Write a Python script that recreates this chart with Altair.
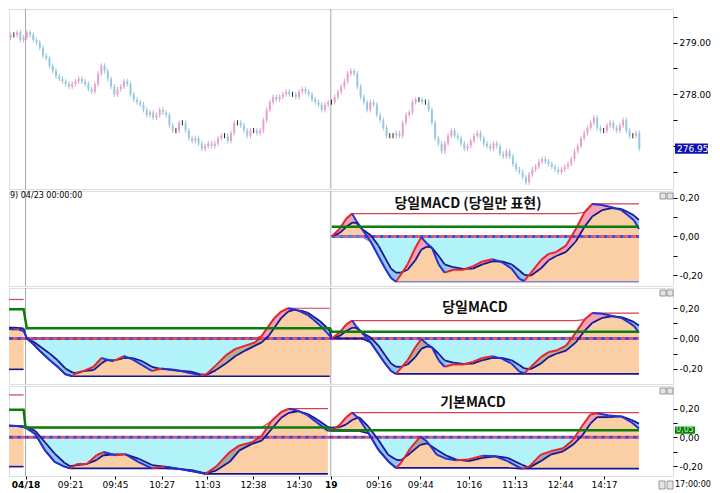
import altair as alt
import pandas as pd
import numpy as np

# ---------------- layout ----------------
W = 664
H_PRICE, H_P2, H_P3, H_P4 = 180, 95, 96, 90
X_DOMAIN = [-0.5, 204.4]          # bar index range shown
DAY_LINES = [4.6, 98.8]           # 04/18 and 19 session starts (bar index)

# ---------------- price bars (closes, one per bar) ----------------
FIRST_OPEN = 279.10
CLOSES = [
    279.15, 279.15, 279.20, 279.05, 279.10, 279.20, 279.15, 279.05, 279.00, 278.90,
    278.75, 278.70, 278.55, 278.45, 278.35, 278.30, 278.25, 278.20, 278.15, 278.20,
    278.25, 278.30, 278.25, 278.20, 278.10, 278.05, 278.20, 278.40, 278.55, 278.45,
    278.30, 278.15, 278.00, 278.10, 278.15, 278.25, 278.20, 278.00, 277.90, 277.85,
    277.80, 277.70, 277.60, 277.65, 277.55, 277.60, 277.70, 277.65, 277.60, 277.40,
    277.30, 277.30, 277.45, 277.45, 277.30, 277.15, 277.10, 277.15, 277.05, 276.95,
    277.00, 277.05, 277.00, 277.05, 277.15, 277.20, 277.20, 277.10, 277.25, 277.45,
    277.45, 277.40, 277.30, 277.20, 277.30, 277.30, 277.25, 277.30, 277.50, 277.70,
    277.85, 277.95, 277.90, 277.95, 278.00, 278.05, 278.00, 278.00, 277.95, 278.05,
    278.10, 278.05, 278.00, 277.90, 277.85, 277.80, 277.70, 277.80, 277.85,
    # 04/19
    277.85, 277.95, 278.05, 278.15, 278.25, 278.40, 278.45, 278.40, 278.15, 277.95,
    277.85, 277.70, 277.85, 277.80, 277.60, 277.50, 277.35, 277.20, 277.20, 277.20,
    277.25, 277.20, 277.45, 277.60, 277.65, 277.85, 277.90, 277.90, 277.85, 277.85,
    277.70, 277.45, 277.15, 277.05, 276.90, 277.05, 277.20, 277.30, 277.20, 277.15,
    277.05, 276.95, 277.00, 277.10, 277.20, 277.25, 277.15, 277.05, 277.00, 276.95,
    277.05, 277.00, 276.85, 276.80, 276.90, 276.80, 276.65, 276.55, 276.50, 276.40,
    276.30, 276.45, 276.55, 276.60, 276.70, 276.75, 276.70, 276.65, 276.60, 276.55,
    276.50, 276.55, 276.60, 276.65, 276.75, 276.90, 277.00, 277.15, 277.25, 277.35,
    277.45, 277.55, 277.35, 277.30, 277.30, 277.40, 277.45, 277.35, 277.30, 277.40,
    277.50, 277.30, 277.20, 277.20, 277.25, 276.95,
]
PRICE_TICKS = [276.5, 277.0, 277.5, 278.0, 278.5, 279.0, 279.5]
PRICE_DOMAIN = [276.17, 279.65]

# ---------------- MACD: "당일" (reset each day) ----------------
D0_X = [-0.5, 1.0, 2.5, 4.0]
D0_M = [0.062, 0.060, 0.060, 0.050]
D0_S = [0.072, 0.071, 0.070, 0.066]

D1_X = [5.0, 7.0, 9.4, 12.1, 14.5, 16.9, 19.0, 20.5, 22.6, 25.6, 28.0, 29.5, 31.6, 33.4,
        34.9, 37.6, 40.6, 43.6, 46.6, 49.6, 52.6, 55.6, 58.6, 60.4, 63.4, 66.4, 69.4, 72.4,
        75.4, 77.5, 79.6, 81.4, 83.5, 85.6, 87.4, 89.5, 91.6, 93.4, 95.5, 97.6, 98.5]
D1_M = [0, -0.037, -0.09, -0.144, -0.187, -0.237, -0.25, -0.224, -0.215, -0.187, -0.129,
        -0.138, -0.15, -0.133, -0.116, -0.138, -0.176, -0.215, -0.198, -0.209, -0.215,
        -0.23, -0.241, -0.237, -0.176, -0.112, -0.069, -0.047, -0.026, 0.017, 0.082,
        0.135, 0.178, 0.2, 0.194, 0.178, 0.157, 0.125, 0.086, 0.039, 0.017]
D1_S = [0, -0.02, -0.058, -0.10, -0.144, -0.198, -0.224, -0.23, -0.215, -0.209, -0.166,
        -0.144, -0.144, -0.138, -0.129, -0.129, -0.15, -0.187, -0.202, -0.204, -0.215,
        -0.219, -0.237, -0.241, -0.209, -0.166, -0.116, -0.08, -0.047, -0.026, 0.017,
        0.071, 0.135, 0.178, 0.189, 0.185, 0.172, 0.146, 0.114, 0.071, 0.05]

D2_X = [99.1, 101.5, 103.6, 105.4, 106.6, 108.4, 111.1, 113.5, 115.6, 117.4, 118.9, 120.4,
        122.5, 124.9, 126.7, 128.5, 130.0, 132.1, 133.9, 136.6, 139.6, 142.6, 145.6, 148.6,
        151.6, 154.6, 157.0, 158.5, 160.6, 163.6, 166.0, 168.4, 171.4, 174.4, 177.1, 179.5,
        182.5, 185.5, 188.5, 190.6, 192.4, 193.9]
D2_M = [0, 0.039, 0.093, 0.118, 0.082, 0.039, -0.026, -0.101, -0.166, -0.215, -0.234,
        -0.198, -0.144, -0.058, -0.004, -0.037, -0.058, -0.144, -0.187, -0.172, -0.172,
        -0.155, -0.129, -0.118, -0.133, -0.166, -0.219, -0.23, -0.187, -0.123, -0.09,
        -0.08, -0.047, 0.039, 0.125, 0.168, 0.163, 0.151, 0.136, 0.108, 0.082, 0.039]
D2_S = [0, 0.017, 0.05, 0.071, 0.071, 0.039, 0.006, -0.047, -0.112, -0.166, -0.187,
        -0.187, -0.172, -0.123, -0.069, -0.052, -0.058, -0.101, -0.144, -0.159, -0.168,
        -0.166, -0.144, -0.129, -0.129, -0.144, -0.176, -0.198, -0.202, -0.166, -0.123,
        -0.101, -0.08, -0.026, 0.05, 0.103, 0.136, 0.146, 0.142, 0.125, 0.108, 0.086]

# ---------------- MACD: "기본" (continuous) ----------------
B0_X = [-0.5, 1.9, 4.0]
B0_M = [0.079, 0.078, 0.070]
B0_S = [0.082, 0.080, 0.077]
B1_X = [4.6, 7.6, 10.6, 13.6, 16.6, 18.4, 20.5, 23.5, 26.5, 28.6, 32.5, 35.5, 39.4, 43.6,
        47.5, 52.6, 56.5, 60.1, 63.4, 67.6, 70.6, 74.5, 77.5, 80.5, 83.5, 85.9, 88.6, 91.6,
        94.6, 97.9]
B1_M = [0.068, 0.023, -0.09, -0.17, -0.203, -0.215, -0.185, -0.185, -0.124, -0.102,
        -0.124, -0.118, -0.17, -0.215, -0.203, -0.221, -0.237, -0.253, -0.203, -0.102,
        -0.056, -0.034, 0.011, 0.113, 0.176, 0.199, 0.185, 0.154, 0.102, 0.045]
B1_S = [0.075, 0.045, -0.034, -0.113, -0.176, -0.2, -0.192, -0.185, -0.158, -0.124,
        -0.118, -0.118, -0.147, -0.192, -0.203, -0.221, -0.23, -0.249, -0.23, -0.17,
        -0.09, -0.045, -0.023, 0.056, 0.136, 0.17, 0.181, 0.163, 0.124, 0.072]
B2_X = [98.8, 101.5, 103.6, 105.4, 107.5, 110.5, 113.5, 116.5, 118.9, 120.4, 123.4, 126.4,
        128.5, 131.5, 134.5, 137.5, 141.4, 145.6, 149.5, 153.4, 157.6, 160.0, 163.6, 166.6,
        170.5, 173.5, 176.5, 178.9, 181.0, 184.6, 188.5, 191.5, 193.9]
B2_M = [0.045, 0.085, 0.14, 0.172, 0.129, 0.027, -0.086, -0.165, -0.212, -0.18, -0.075,
        0.005, -0.029, -0.12, -0.149, -0.158, -0.154, -0.127, -0.131, -0.165, -0.217,
        -0.203, -0.12, -0.097, -0.075, -0.018, 0.084, 0.158, 0.167, 0.151, 0.145, 0.106,
        0.061]
B2_S = [0.068, 0.07, 0.09, 0.12, 0.14, 0.072, -0.018, -0.12, -0.154, -0.16, -0.108,
        -0.052, -0.041, -0.086, -0.127, -0.154, -0.165, -0.142, -0.131, -0.142, -0.188,
        -0.21, -0.165, -0.12, -0.097, -0.052, 0.016, 0.095, 0.14, 0.14, 0.145, 0.122,
        0.095]

X_TICK_POS = [4.6, 18.4, 32.2, 46.6, 60.7, 74.8, 88.9, 98.8, 113.5, 126.4, 141.4, 155.5,
              169.6, 183.1]
X_TICK_TEXT = ["04/18", "09:21", "09:45", "10:27", "11:03", "12:38", "14:30", "19",
               "09:16", "09:44", "10:16", "11:13", "12:44", "14:17"]

# ---------------- colours / fonts ----------------
PEACH, CYAN = "#FBCFA6", "#B2F3FA"
PINK, LBLUE = "#F2A3B6", "#92C6EE"
RED, BLUE, NAVY = "#E3262F", "#2430D0", "#161690"
HI_RED, GREEN = "#D8404C", "#0B7D0B"
UP_C, DOWN_C = "#E4A2CC", "#98C8DE"
FONT = "DejaVu Sans"
KFONT = "Noto Sans CJK KR"
INF = float("inf")

XS = alt.Scale(domain=X_DOMAIN, nice=False, zero=False, padding=0)

MACD_LABEL = ("abs(datum.value) > 0.15 || datum.value == 0 ? "
              "(datum.value < 0 ? '-' : ' ') + replace(format(abs(datum.value), '.2f'), '.', ',') : ''")
MACD_AXIS = alt.Axis(orient="right", values=[-0.2, -0.1, 0, 0.1, 0.2], labelExpr=MACD_LABEL,
                     title=None, grid=False, tickSize=4, labelPadding=2, domain=False,
                     labelFontSize=9, labelFont=FONT, labelColor="#000", tickColor="#000")

expr = "''"
for p, t in reversed(list(zip(X_TICK_POS, X_TICK_TEXT))):
    expr = f"datum.value < {p + 0.5} ? '{t}' : ({expr})"
X_AXIS = alt.Axis(orient="bottom", values=X_TICK_POS, labelExpr=expr, title=None, grid=False,
                  tickSize=3, labelPadding=1, labelFlush=False, labelOverlap=False, domain=False,
                  labelFontSize=9, labelFont=FONT, labelColor="#000", tickColor="#000",
                  labelFontWeight={"condition": {"test": "datum.value < 5 || (datum.value > 98 && datum.value < 100)",
                                                 "value": "bold"}, "value": "normal"})


def icons(y0, y1, xs=(W - 13, W - 6)):
    """two small window buttons of the charting tool"""
    return [alt.Chart(pd.DataFrame({"k": [0]})).mark_rect(fill="#E4E4E4", stroke="#808080", strokeWidth=0.8)
            .encode(x=alt.value(x), x2=alt.value(x + 6), y=alt.value(y0), y2=alt.value(y1)) for x in xs]


def frames(days):
    base, band, greens = [], [], []
    allx, allm, alls = [], [], []
    seg = 0
    for di, d in enumerate(days):
        xs, ms, ss = d["x"], d["m"], d["s"]
        hi, lo = d["hi0"], d["lo0"]
        for x, m, s in zip(xs, ms, ss):
            hi = max(hi, m)
            lo = min(lo, m, s)
            base.append({"x": x, "day": di, "hi": hi, "lo": lo, "bot": min(m, s),
                         "cy": min(0.0, max(m, s)), "zero": 0.0})
        pieces = []
        for k in range(len(xs) - 1):
            a = (xs[k], ms[k], ss[k])
            b = (xs[k + 1], ms[k + 1], ss[k + 1])
            da, db = a[1] - a[2], b[1] - b[2]
            if da * db < 0:
                t = da / (da - db)
                c = tuple(a[j] + t * (b[j] - a[j]) for j in range(3))
                pieces += [(a, c), (c, b)]
            else:
                pieces.append((a, b))
        prev = None
        for a, b in pieces:
            dm = (a[1] - a[2]) + (b[1] - b[2])
            cat = "up" if dm > 0 else "down"
            if cat == "up" and (a[1] + b[1]) / 2 < 0:
                cat = "upneg"
            if cat != prev:
                seg += 1
                band.append({"x": a[0], "m": a[1], "s": a[2], "seg": seg, "cat": cat})
                prev = cat
            band.append({"x": b[0], "m": b[1], "s": b[2], "seg": seg, "cat": cat})
        greens += [{"x": xs[0], "g": d["green"]}, {"x": xs[-1], "g": d["green"]}]
        allx += list(xs); allm += list(ms); alls += list(ss)
    sig, mup, mdn = [], [], []
    for k in range(len(allx) - 1):
        sig.append({"x": allx[k], "x2": allx[k + 1], "y": alls[k], "y2": alls[k + 1]})
        row = {"x": allx[k], "x2": allx[k + 1], "y": allm[k], "y2": allm[k + 1]}
        (mup if allm[k + 1] >= allm[k] else mdn).append(row)
    zero = pd.DataFrame({"x": [allx[0]], "x2": [allx[-1]], "y": [0.0]})
    return (pd.DataFrame(base), pd.DataFrame(band), pd.DataFrame(sig), pd.DataFrame(mup),
            pd.DataFrame(mdn), pd.DataFrame(greens), zero)


def macd_panel(days, dom, height, gray, lo_color, title, tx, ty, xaxis=None, extra=()):
    base, band, sig, mup, mdn, greens, zero = frames(days)
    ysc = alt.Scale(domain=dom, nice=False, zero=False, padding=0)
    X = lambda f: alt.X(f, type="quantitative", scale=XS, axis=xaxis)
    Y = lambda f: alt.Y(f, type="quantitative", scale=ysc, axis=MACD_AXIS)
    layers = [
        alt.Chart(pd.DataFrame({"x": DAY_LINES})).mark_rule(color="#A8A8A8", strokeWidth=1)
        .encode(x=X("x")),
        alt.Chart(base).mark_area(color=PEACH, clip=True)
        .encode(x=X("x"), y=Y("bot"), y2=alt.Y2("lo"), detail="day:N"),
        alt.Chart(base).mark_area(color=CYAN, clip=True)
        .encode(x=X("x"), y=Y("zero"), y2=alt.Y2("cy"), detail="day:N"),
    ]
    for cat, col in [("up", PINK), ("down", LBLUE), ("upneg", gray)]:
        sub = band[band["cat"] == cat]
        if len(sub):
            layers.append(alt.Chart(sub).mark_area(color=col, clip=True)
                          .encode(x=X("x"), y=Y("m"), y2=alt.Y2("s"), detail="seg:N"))
    layers += [
        alt.Chart(zero).mark_rule(color="#3C50E6", strokeWidth=3, strokeDash=[4, 4], clip=True)
        .encode(x=X("x"), x2=alt.X2("x2"), y=Y("y")),
        alt.Chart(zero).mark_rule(color="#F05060", strokeWidth=3, strokeDash=[4, 4], strokeDashOffset=4,
                                  clip=True)
        .encode(x=X("x"), x2=alt.X2("x2"), y=Y("y")),
        alt.Chart(base).mark_line(color=HI_RED, strokeWidth=1.2, clip=True)
        .encode(x=X("x"), y=Y("hi"), detail="day:N"),
        alt.Chart(base).mark_line(color=lo_color, strokeWidth=1.6, clip=True)
        .encode(x=X("x"), y=Y("lo"), detail="day:N"),
        alt.Chart(sig).mark_rule(color=NAVY, strokeWidth=1.8, clip=True)
        .encode(x=X("x"), x2=alt.X2("x2"), y=Y("y"), y2=alt.Y2("y2")),
        alt.Chart(mup).mark_rule(color=RED, strokeWidth=2, clip=True)
        .encode(x=X("x"), x2=alt.X2("x2"), y=Y("y"), y2=alt.Y2("y2")),
        alt.Chart(mdn).mark_rule(color=BLUE, strokeWidth=2, clip=True)
        .encode(x=X("x"), x2=alt.X2("x2"), y=Y("y"), y2=alt.Y2("y2")),
        alt.Chart(greens).mark_line(color=GREEN, strokeWidth=2.5, clip=True).encode(x=X("x"), y=Y("g")),
        alt.Chart(pd.DataFrame({"t": [title]})).mark_text(font=KFONT, fontSize=14, fontWeight="bold",
                                                          color="#111")
        .encode(x=alt.value(tx), y=alt.value(ty), text="t:N"),
    ]
    layers += icons(2, 8)
    layers += [f(X, Y) for f in extra]
    return alt.layer(*layers).properties(width=W, height=height)


# ---------------- price panel ----------------
price = pd.DataFrame({"i": np.arange(len(CLOSES)), "c": CLOSES})
price["o"] = [FIRST_OPEN] + CLOSES[:-1]
price["hi"] = price[["o", "c"]].max(axis=1) + 0.05
price["lo"] = price[["o", "c"]].min(axis=1) - 0.05
price["dir"] = np.where(price.c > price.o, "up", np.where(price.c < price.o, "down", "flat"))
last = pd.DataFrame({"p": [CLOSES[-1]], "top": [CLOSES[-1] + 0.1], "bot": [CLOSES[-1] - 0.1],
                     "t": [f"{CLOSES[-1]:.2f}"]})

PX = lambda f: alt.X(f, type="quantitative", scale=XS, axis=None)
PY = lambda f: alt.Y(f, type="quantitative",
                     scale=alt.Scale(domain=PRICE_DOMAIN, nice=False, zero=False, padding=0),
                     axis=alt.Axis(orient="right", values=PRICE_TICKS, title=None, grid=False, tickSize=4,
                                   labelPadding=2, domain=False, labelFontSize=9, labelFont=FONT,
                                   labelColor="#000", tickColor="#000",
                                   labelExpr="datum.value == 278 || datum.value == 279 ? format(datum.value, '.2f') : ''"))
dir_color = alt.Color("dir:N", scale=alt.Scale(domain=["up", "down", "flat"], range=[UP_C, DOWN_C, "#222"]),
                      legend=None)
price_chart = alt.layer(
    alt.Chart(pd.DataFrame({"x": DAY_LINES})).mark_rule(color="#A8A8A8", strokeWidth=1).encode(x=PX("x")),
    alt.Chart(price).mark_rule(strokeWidth=1, clip=True)
    .encode(x=PX("i"), y=PY("lo"), y2=alt.Y2("hi"), color=dir_color),
    alt.Chart(price).mark_bar(size=2, clip=True)
    .encode(x=PX("i"), y=PY("o"), y2=alt.Y2("c"), color=dir_color),
    alt.Chart(last).mark_rect(color="#1010B0").encode(x=alt.value(W + 2), x2=alt.value(W + 35),
                                                      y=PY("top"), y2=alt.Y2("bot")),
    alt.Chart(last).mark_text(color="white", fontSize=9, font=FONT, align="left", baseline="middle")
    .encode(x=alt.value(W + 4), y=PY("p"), text="t:N"),
).properties(width=W, height=H_PRICE)

# ---------------- MACD panels ----------------
p2 = macd_panel(
    [dict(x=D2_X, m=D2_M, s=D2_S, hi0=-INF, lo0=INF, green=0.05)],
    [-0.256, 0.235], H_P2, PINK, "#8484D8", "당일MACD (당일만 표현)", 459, 13,
    extra=[lambda X, Y: alt.Chart(pd.DataFrame({"t": ["9) 04/23 00:00:00"]}))
           .mark_text(fontSize=8, font=FONT, align="left", baseline="middle", color="#000")
           .encode(x=alt.value(1), y=alt.value(5), text="t:N")])

p3 = macd_panel(
    [dict(x=D0_X, m=D0_M, s=D0_S, hi0=0.258, lo0=-0.204, green=0.194),
     dict(x=D1_X, m=D1_M, s=D1_S, hi0=-INF, lo0=INF, green=0.067),
     dict(x=D2_X, m=D2_M, s=D2_S, hi0=-INF, lo0=INF, green=0.045)],
    [-0.301, 0.334], H_P3, "#B8AC98", NAVY, "당일MACD", 466, 20)

green_lab = pd.DataFrame({"g": [0.05], "top": [0.075], "bot": [0.025], "t": ["0,05"]})
p4 = macd_panel(
    [dict(x=B0_X, m=B0_M, s=B0_S, hi0=0.294, lo0=-0.203, green=0.192),
     dict(x=B1_X, m=B1_M, s=B1_S, hi0=-INF, lo0=INF, green=0.068),
     dict(x=B2_X, m=B2_M, s=B2_S, hi0=-INF, lo0=INF, green=0.05)],
    [-0.268, 0.356], H_P4, "#A6A6A6", NAVY, "기본MACD", 464, 17, xaxis=X_AXIS,
    extra=[lambda X, Y: alt.Chart(green_lab).mark_rect(color="#0B7D0B")
           .encode(x=alt.value(W + 2), x2=alt.value(W + 22), y=Y("top"), y2=alt.Y2("bot")),
           lambda X, Y: alt.Chart(green_lab).mark_text(color="#B8FFB8", fontSize=8, font=FONT,
                                                       align="left", baseline="middle")
           .encode(x=alt.value(W + 3), y=Y("g"), text="t:N"),
           lambda X, Y: icons(H_P4 + 5, H_P4 + 13, xs=(W - 14, W - 6))[0],
           lambda X, Y: icons(H_P4 + 5, H_P4 + 13, xs=(W - 14, W - 6))[1],
           lambda X, Y: alt.Chart(pd.DataFrame({"t": ["17:00:00"]}))
           .mark_text(fontSize=8, font=FONT, align="left", baseline="middle", color="#000")
           .encode(x=alt.value(W + 2), y=alt.value(H_P4 + 9), text="t:N")])

chart = (alt.vconcat(price_chart, p2, p3, p4, spacing=0)
         .properties(padding={"left": 0, "top": 0, "right": 0, "bottom": 0})
         .configure_view(stroke="#333", strokeWidth=1)
         .configure(font=FONT, background="white"))

chart.save("out.html", embed_options={"renderer": "svg", "actions": False})
